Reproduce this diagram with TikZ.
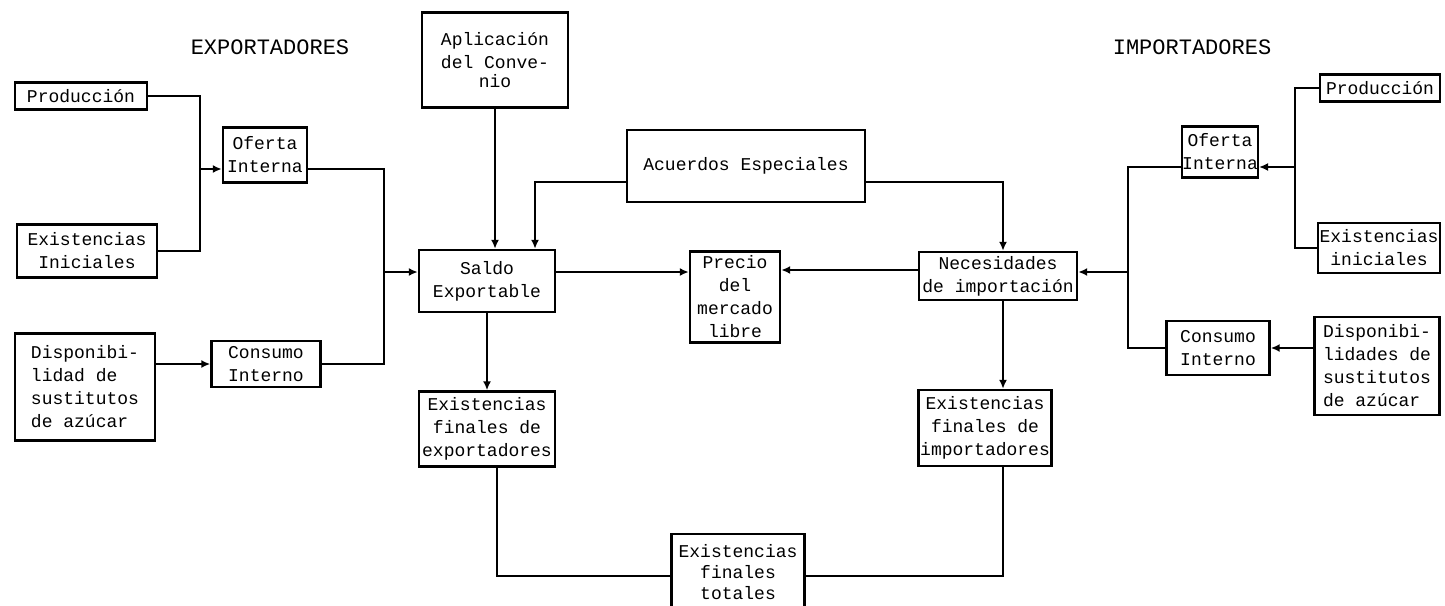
\documentclass[tikz,border=0pt]{standalone}
\usepackage{fontspec}
\newfontfamily\maquina{Liberation Mono}
\usepackage{tikz}
\usetikzlibrary{arrows.meta,calc,positioning}

\begin{document}
\begin{tikzpicture}[
  x=1pt, y=-1pt,
  caja/.style 2 args={
    draw,
    line width=2.4pt,
    rectangle,
    inner sep=0pt,
    minimum width=#1pt,
    minimum height=#2pt,
    align=center,
    font=\maquina\fontsize{18}{23}\selectfont
    },
  titulo/.style={
    font=\maquina\fontsize{22}{26}\selectfont
    },
  linea/.style={
    line width=2pt
    },
  flecha/.style={
    linea,
    -{Latex[length=9pt,width=8pt]}
  }
]
\useasboundingbox (0,0) rectangle (1445,605);

\node[titulo] (exportadores) at (270,47) {EXPORTADORES};
\node[titulo] (importadores) at (1192,47) {IMPORTADORES};

% exportadores
\node[caja={132}{27}] (prodE) at (81,96) {Producción};
\node[caja={140}{53}] (exinE) at (87,251) {Existencias\\Iniciales};
\node[caja={140}{107}, align=left] (dispE) at (85,387) {Disponibi-\\lidad de\\sustitutos\\de azúcar};
\node[caja={84}{55}] (ofertaE) at (265,155) {Oferta\\Interna};
\node[caja={109}{46}] (consE) at (266,364) {Consumo\\Interno};

% centro
\node[caja={146}{95}] (aplic) at (495,60) {Aplicación\\del Conve-\\[-4pt]nio};
\node[caja={238}{72}] (acuerdos) at (746,166) {Acuerdos Especiales};
\node[caja={136}{62}] (saldo) at (487,281) {Saldo\\Exportable};
\node[caja={90}{91}] (precio) at (735,297) {Precio\\del\\mercado\\libre};
\node[caja={158}{48}] (necesidades) at (998,276) {Necesidades\\de importación};
\node[caja={136}{75}] (exfE) at (487,429) {Existencias\\finales de\\exportadores};
\node[caja={133}{76}] (exfI) at (985,428) {Existencias\\finales de\\importadores};
\node[caja={133}{76}, font=\maquina\fontsize{18}{21}\selectfont] (exfT) at (738,572) {Existencias\\finales\\totales};

% importadores
\node[caja={120}{27}] (prodI) at (1380,88) {Producción};
\node[caja={122}{50}] (exinI) at (1379,248) {Existencias\\iniciales};
\node[caja={125}{98}, align=left] (dispI) at (1377,366) {Disponibi-\\lidades de\\sustitutos\\de azúcar};
\node[caja={75}{51}] (ofertaI) at (1220,152) {Oferta\\Interna};
\node[caja={103}{54}] (consI) at (1218,348) {Consumo\\Interno};

\coordinate (jE1) at (200,169);
\coordinate (jE2) at (384,272);
\coordinate (jI1) at (1128,272);
\coordinate (jI2) at (1295,167);

% lado exportador
\draw[linea] (prodE.east) -| (jE1) |- (exinE.east);
\draw[flecha] (jE1) -- (jE1 -| ofertaE.west);
\draw[linea] (ofertaE.east |- jE1) -| (jE2) |- (consE.east);
\draw[flecha] (jE2) -- (jE2 -| saldo.west);
\draw[flecha] (dispE.east |- consE.east) -- (consE.west);

% centro
\draw[flecha] (aplic.south) -- (aplic.south |- saldo.north);
\draw[flecha] ([yshift=-16pt]acuerdos.west) -| ([xshift=48pt]saldo.north);
\draw[flecha] ([yshift=-16pt]acuerdos.east) -| ([xshift=5pt]necesidades.north);
\draw[flecha] (saldo.east |- jE2) -- (precio.west |- jE2);
\draw[flecha] ([yshift=6pt]necesidades.west) -- ([yshift=6pt]necesidades.west -| precio.east);
\draw[flecha] (saldo.south) -- (saldo.south |- exfE.north);
\draw[flecha] ([xshift=5pt]necesidades.south) -- ([xshift=5pt]necesidades.south |- exfI.north);
\draw[linea] ([xshift=10pt]exfE.south) |- ([yshift=-4pt]exfT.west);
\draw[linea] ([xshift=18pt]exfI.south) |- ([yshift=-4pt]exfT.east);

% lado importador
\draw[linea] (ofertaI.west |- jI2) -| (jI1) |- (consI.west);
\draw[flecha] (jI1) -- (jI1 -| necesidades.east);
\draw[linea] (prodI.west) -| (jI2) |- (exinI.west);
\draw[flecha] (jI2) -- (jI2 -| ofertaI.east);
\draw[flecha] (dispI.west |- consI.east) -- (consI.east);

\end{tikzpicture}
\end{document}
